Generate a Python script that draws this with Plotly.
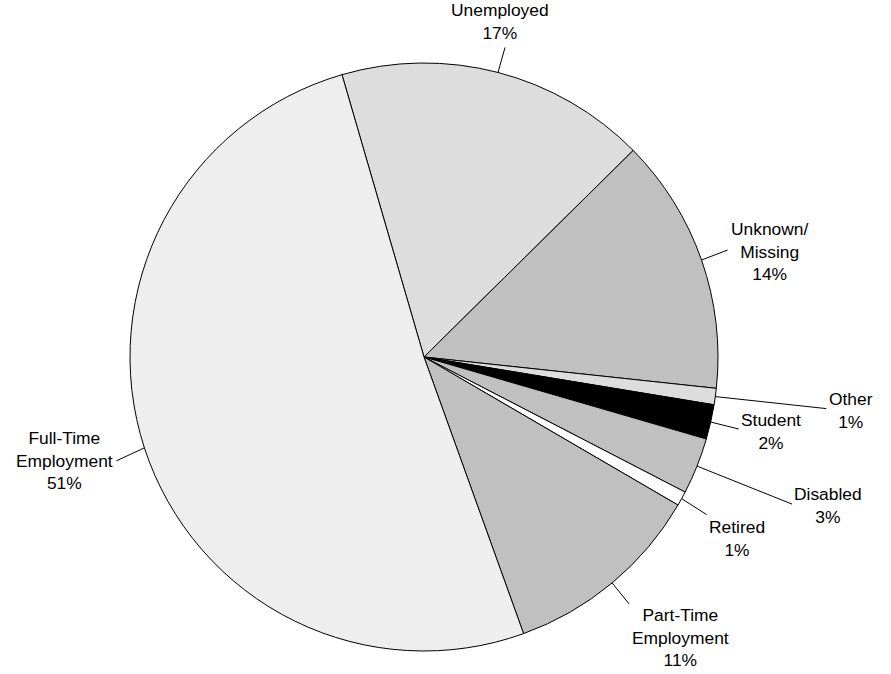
import math
import plotly.graph_objects as go

# ---- data ----
labels = ["Unemployed", "Unknown/<br>Missing", "Other", "Student", "Disabled",
          "Retired", "Part-Time<br>Employment", "Full-Time<br>Employment"]
values = [17.1, 14.1, 0.9, 1.9, 3.1, 0.8, 11.1, 51.0]
pct_text = ["17%", "14%", "1%", "2%", "3%", "1%", "11%", "51%"]

# ---- style / layout ----
colors = ["#dddddd", "#c0c0c0", "#dddddd", "#000000", "#c0c0c0",
          "#ffffff", "#c0c0c0", "#eeeeee"]
W, H = 891, 674
CX, CY, R = 424, 357, 294
ROT = -16.2
# leader line end offsets (px from slice edge) and label anchoring
leader = [
    dict(dx=7, dy=-25, xa="center", ya="bottom", tx=-5, ty=-2),
    dict(dx=26, dy=-10, xa="left", ya="middle", tx=1, ty=1),
    dict(dx=111, dy=12, xa="left", ya="middle", tx=1, ty=2),
    dict(dx=28, dy=7, xa="left", ya="middle", tx=0, ty=2),
    dict(dx=95, dy=38, xa="left", ya="middle", tx=0, ty=1),
    dict(dx=25, dy=16, xa="left", ya="top", tx=0, ty=0),
    dict(dx=17, dy=21, xa="left", ya="top", tx=1, ty=-1),
    dict(dx=-28, dy=13, xa="right", ya="middle", tx=-1, ty=0),
]

dom_x = [(CX - R) / W, (CX + R) / W]
dom_y = [(H - CY - R) / H, (H - CY + R) / H]

fig = go.Figure(go.Pie(
    labels=labels, values=values, sort=False, direction="clockwise",
    rotation=ROT, textinfo="none", hoverinfo="label+percent",
    marker=dict(colors=colors, line=dict(color="#000000", width=1)),
    domain=dict(x=dom_x, y=dom_y), showlegend=False,
))

total = sum(values)
ang = ROT
shapes, annotations = [], []
for lab, v, p, ld in zip(labels, values, pct_text, leader):
    mid = ang + v / total * 360 / 2
    ang += v / total * 360
    a = math.radians(mid)
    ex, ey = CX + R * math.sin(a), CY - R * math.cos(a)
    lx, ly = ex + ld["dx"], ey + ld["dy"]
    shapes.append(dict(type="line", xref="paper", yref="paper",
                       x0=ex / W, y0=1 - ey / H, x1=lx / W, y1=1 - ly / H,
                       line=dict(color="#000000", width=1)))
    annotations.append(dict(
        x=(lx + ld["tx"]) / W, y=1 - (ly + ld["ty"]) / H, xref="paper", yref="paper",
        text=f"{lab}<br>{p}", showarrow=False, xanchor=ld["xa"], yanchor=ld["ya"],
        align="center", font=dict(family="Liberation Sans, Arial, sans-serif",
                                  size=17.4, color="#000000")))

fig.update_layout(
    width=W, height=H, margin=dict(l=0, r=0, t=0, b=0),
    paper_bgcolor="white", plot_bgcolor="white",
    shapes=shapes, annotations=annotations,
)
fig.write_html("out.html", config={"displayModeBar": False},
               post_script="document.body.style.margin='0';document.body.style.overflow='hidden';")
